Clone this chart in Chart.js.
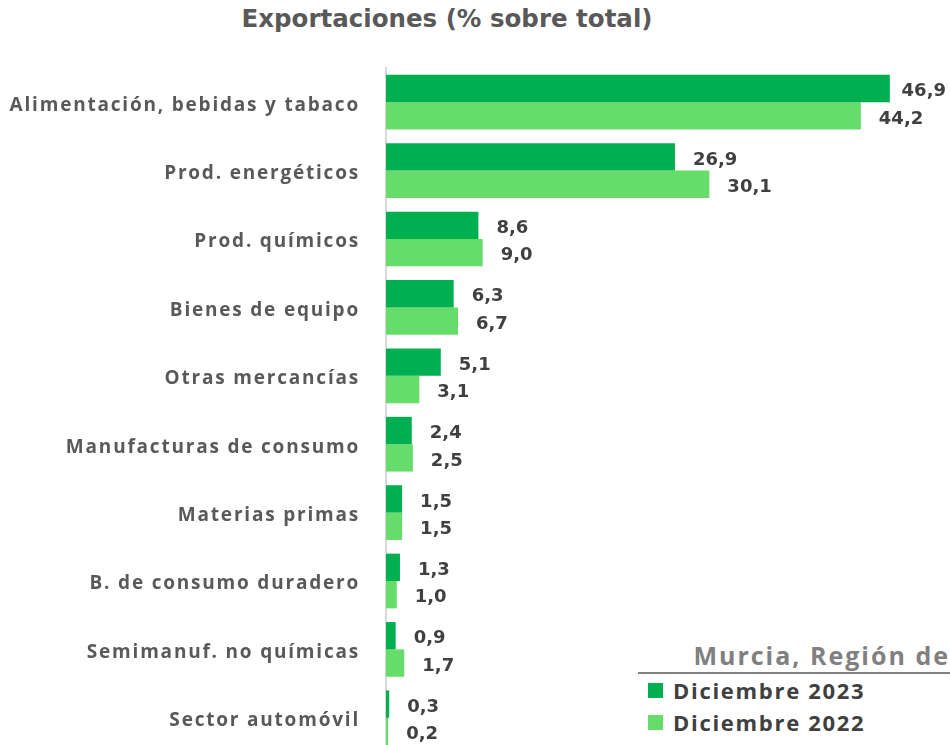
<!DOCTYPE html>
<html>
<head>
<meta charset="utf-8">
<script src="https://cdn.jsdelivr.net/npm/chart.js@4.4.1/dist/chart.umd.min.js"></script>
<style>
  html, body { margin: 0; padding: 0; background: #fff; overflow: hidden; }
  #wrap { position: relative; width: 950px; height: 745px; }
  #title { position: absolute; left: 0; width: 894px; top: 4px; text-align: center;
           font: bold 24.5px "DejaVu Sans", sans-serif; color: #595959; }
  #chartBox { position: absolute; left: 0; top: 0; width: 950px; height: 752px; }
  #legend { position: absolute; left: 638px; top: 638px; width: 312px; background: #fff;
            font-family: "Open Sans", sans-serif; }
  #legend .head { font-weight: bold; font-size: 25px; color: #808080; text-align: right;
                  letter-spacing: 2px; border-bottom: 2px solid #808080; line-height: 34px;
                  white-space: nowrap; }
  #legend .item { display: flex; align-items: center; height: 32px; padding-left: 10px;
                  font-weight: bold; font-size: 22px; letter-spacing: 1.7px; color: #404040; }
  #legend .item:first-of-type { margin-top: 2px; }
  #legend .sw { width: 15px; height: 15px; margin-right: 10px; }
</style>
</head>
<body>
<div id="wrap">
  <div id="title"></div>
  <div id="chartBox"><canvas id="myChart"></canvas></div>
  <div id="legend"></div>
</div>
<script>
const chartTitle = "Exportaciones (% sobre total)";
const legendTitle = "Murcia, Región de";

const categories = [
    "Alimentación, bebidas y tabaco",
    "Prod. energéticos",
    "Prod. químicos",
    "Bienes de equipo",
    "Otras mercancías",
    "Manufacturas de consumo",
    "Materias primas",
    "B. de consumo duradero",
    "Semimanuf. no químicas",
    "Sector automóvil"
];

const seriesNames = ["Diciembre 2023", "Diciembre 2022"];
const dic2023 = [46.9, 26.9, 8.6, 6.3, 5.1, 2.4, 1.5, 1.3, 0.9, 0.3];
const dic2022 = [44.2, 30.1, 9.0, 6.7, 3.1, 2.5, 1.5, 1.0, 1.7, 0.2];

const colors = ["#00B050", "#66DC6A"];

document.getElementById("title").textContent = chartTitle;

// spaced-out category labels, like the original
const spacing = {
    id: "spacing",
    beforeLayout(chart) { chart.ctx.letterSpacing = "1.8px"; },
    beforeDraw(chart) { chart.ctx.letterSpacing = "1.8px"; }
};

// value labels at the end of each bar
const valueLabels = {
    id: "valueLabels",
    afterDatasetsDraw(chart) {
        const ctx = chart.ctx;
        ctx.save();
        ctx.letterSpacing = "0px";
        ctx.font = "bold 18px 'DejaVu Sans', sans-serif";
        ctx.fillStyle = "#404040";
        ctx.textBaseline = "middle";
        chart.data.datasets.forEach((ds, i) => {
            chart.getDatasetMeta(i).data.forEach((bar, j) => {
                const txt = ds.data[j].toFixed(1).replace(".", ",");
                const w = ctx.measureText(txt).width;
                let x = bar.x + 18;
                if (x + w > chart.width - 4) x = chart.width - 4 - w;
                ctx.fillText(txt, x, bar.y + 3);
            });
        });
        ctx.restore();
    }
};

const myChart = new Chart("myChart", {
    type: "bar",
    data: {
        labels: categories,
        datasets: [
            { label: seriesNames[0], data: dic2023, backgroundColor: colors[0] },
            { label: seriesNames[1], data: dic2022, backgroundColor: colors[1] }
        ]
    },
    options: {
        indexAxis: "y",
        responsive: true,
        maintainAspectRatio: false,
        animation: false,
        categoryPercentage: 0.8,
        barPercentage: 1.0,
        layout: { padding: { top: 68, right: 0, bottom: 0, left: 0 } },
        plugins: {
            legend: { display: false },
            tooltip: { enabled: false }
        },
        scales: {
            x: {
                display: false,
                min: 0,
                max: 52.5
            },
            y: {
                grid: { display: false, drawTicks: false },
                border: { display: true, color: "#D9D9D9", width: 2 },
                ticks: {
                    color: "#595959",
                    padding: 26,
                    labelOffset: 3,
                    font: { family: "'Open Sans', sans-serif", size: 19, weight: "bold" }
                },
                afterFit(scale) {
                    scale.width = 386;
                    // tick padding would otherwise eat space at top and bottom
                    scale.paddingTop = 0;
                    scale.paddingBottom = 0;
                }
            }
        }
    },
    plugins: [spacing, valueLabels]
});

// legend box (drawn over the lower right of the plot, as in the original)
const leg = document.getElementById("legend");
let html = '<div class="head">' + legendTitle + '</div>';
seriesNames.forEach((n, i) => {
    html += '<div class="item"><span class="sw" style="background:' + colors[i] + '"></span>' + n + '</div>';
});
leg.innerHTML = html;
</script>
</body>
</html>
